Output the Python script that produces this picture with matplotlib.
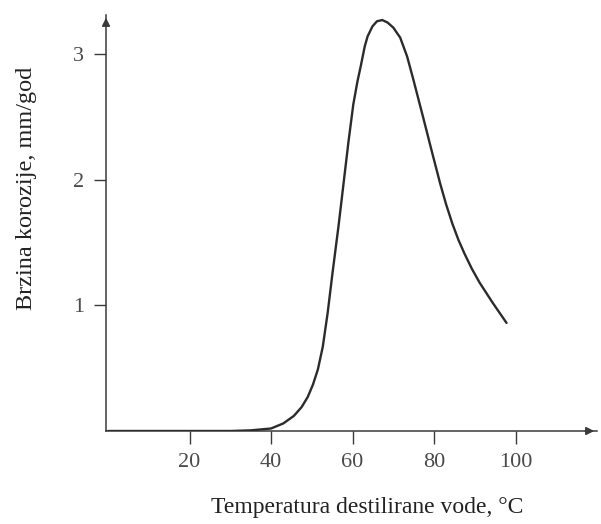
import matplotlib
matplotlib.use('Agg')
import matplotlib.pyplot as plt

# Podaci ocitani sa slike
temperatura = [0, 30, 35, 40, 43, 45.6, 47.5, 49.0, 50.3, 51.5, 52.7, 53.9, 55.1, 56.6,
               57.8, 59.0, 60.2, 61.2, 62.0, 63.0, 63.7, 64.9, 66.0, 67.3, 68.6, 70.0,
               71.7, 73.4, 74.9, 77.3, 79.5, 81.5, 83.0, 84.5, 86.0, 87.5, 89.3, 91.2,
               94.4, 97.8]
brzina = [0, 0, 0.005, 0.02, 0.06, 0.12, 0.19, 0.27, 0.37, 0.49, 0.67, 0.94, 1.26, 1.64,
          1.97, 2.30, 2.60, 2.78, 2.90, 3.06, 3.14, 3.22, 3.26, 3.27, 3.25, 3.21,
          3.13, 2.98, 2.80, 2.50, 2.22, 1.97, 1.80, 1.65, 1.52, 1.41, 1.29, 1.18,
          1.02, 0.86]
x_ticks = [20, 40, 60, 80, 100]
y_ticks = [1, 2, 3]

plt.rcParams['font.family'] = ['Liberation Serif', 'DejaVu Serif']

fig = plt.figure(figsize=(6.01, 5.24), dpi=100)
ax = fig.add_axes([106 / 601, 93 / 524, 491 / 601, 416 / 524])

osa = '#3a3a3a'
ax.plot(temperatura, brzina, color='#2b2b2b', lw=1.7, solid_capstyle='round',
        solid_joinstyle='round', zorder=3)

ax.set_xlim(-0.5, 120)
ax.set_ylim(0, 3.31)
ax.spines['top'].set_visible(False)
ax.spines['right'].set_visible(False)
for s in ['left', 'bottom']:
    ax.spines[s].set_color(osa)
    ax.spines[s].set_linewidth(1.1)

# strelice na krajevima osa
ax.annotate('', xy=(1.0, 0), xytext=(0.97, 0), xycoords='axes fraction',
            arrowprops=dict(arrowstyle='-|>', color=osa, lw=1.1, mutation_scale=12))
ax.annotate('', xy=(0, 1.0), xytext=(0, 0.97), xycoords='axes fraction',
            arrowprops=dict(arrowstyle='-|>', color=osa, lw=1.1, mutation_scale=12))

ax.set_xticks(x_ticks)
ax.set_yticks(y_ticks)
ax.set_xticklabels([str(v) for v in x_ticks])
ax.set_yticklabels([str(v) for v in y_ticks])
ax.tick_params(axis='both', direction='out', length=9, width=1.0, color=osa,
               labelsize=16, labelcolor='#4a4a4a', pad=7)

# natpisi osa
fig.text(367 / 601, 1 - 507 / 524, 'Temperatura destilirane vode, °C', fontsize=17,
         color='#222222', ha='center', va='center')
fig.text(27 / 601, 1 - 188 / 524, 'Brzina korozije, mm/god', fontsize=17.5,
         color='#222222', ha='center', va='center', rotation=90)

fig.savefig('out.png', dpi=100, facecolor='white')
